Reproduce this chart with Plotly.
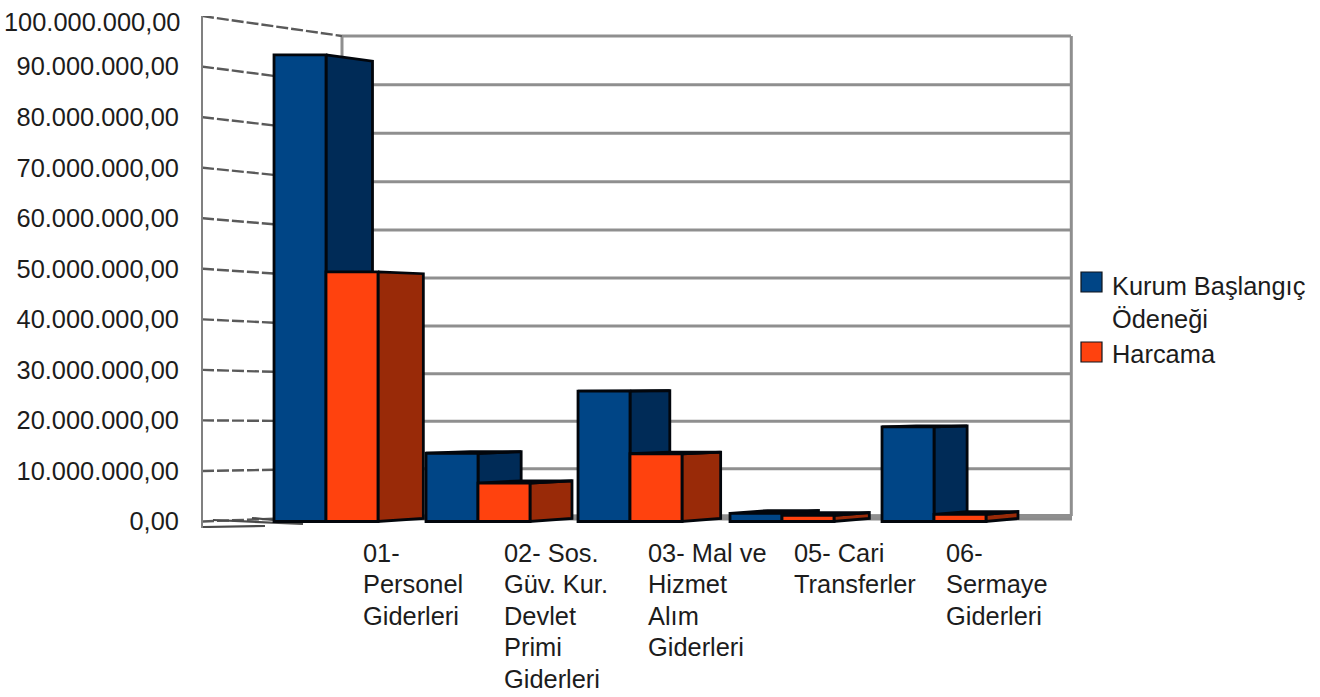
import plotly.graph_objects as go

# ---------- data ----------
categories = [
    "01-<br>Personel<br>Giderleri",
    "02- Sos.<br>Güv. Kur.<br>Devlet<br>Primi<br>Giderleri",
    "03- Mal ve<br>Hizmet<br>Alım<br>Giderleri",
    "05- Cari<br>Transferler",
    "06-<br>Sermaye<br>Giderleri",
]
series_names = ["Kurum Başlangıç<br>Ödeneği", "Harcama"]
kurum_baslangic = [92_300_000, 13_500_000, 25_800_000, 1_600_000, 18_700_000]
harcama = [49_400_000, 7_600_000, 13_400_000, 1_200_000, 1_400_000]
y_ticks = [0, 10_000_000, 20_000_000, 30_000_000, 40_000_000,
           50_000_000, 60_000_000, 70_000_000, 80_000_000, 90_000_000]
y_top = 100_000_000

# ---------- style / geometry ----------
W, H = 1320, 697
L, R, T, B = 203, 1073, 16, 528
PX_CAT0, PX_CAT = 326.0, 152.0           # category spacing on the front plane
PX_ZERO = 521.5
PX_PER_UNIT = (PX_ZERO - T) / y_top
BLUE, BLUE_DARK = "#004586", "#002b57"
ORANGE, ORANGE_DARK = "#ff420e", "#992a08"
EDGE = "#02060c"
FONT = "Liberation Sans, Arial, sans-serif"
FS = 25.4
TXT = "#1c1c1c"
BAR_W = 0.342
LABEL_LEFT = [361, 502, 646, 792, 944]
LABEL_ROWS = [553, 584, 615.5, 647, 679]


def xd(px):
    return (px - PX_CAT0) / PX_CAT


def yd(py):
    return (PX_ZERO - py) / PX_PER_UNIT


def xp(px):
    return (px - L) / (R - L)


def yp(py):
    return (B - py) / (B - T)


x_range = [xd(L), xd(R)]
y_range = [yd(B), y_top]


def back_py(v):
    """pixel row of value v on the back wall"""
    u = v / y_top
    return 516 - u * 480 + 8 * u * (1 - u)


def depth_dx(x):
    return (46.5 - 0.022 * (x * PX_CAT)) / PX_CAT


def depth_v(v):
    dy = -3 + 0.1 * v / 1e6
    return v - dy / PX_PER_UNIT


def faces(values, offset):
    """side + (when visible) top faces of the bars of one series"""
    xs, ys = [], []
    for i, v in enumerate(values):
        x0, x1 = i + offset, i + offset + BAR_W
        bx0, bx1 = x0 + depth_dx(x0), x1 + depth_dx(x1)
        xs += [x1, bx1, bx1, x1, x1, None]
        ys += [v, depth_v(v), depth_v(0), 0, v, None]
        if depth_v(v) > v:
            xs += [x0, bx0, bx1, x1, x0, None]
            ys += [v, depth_v(v), depth_v(v), v, v, None]
    return xs, ys


fig = go.Figure()

# back wall grid
wall_x, wall_y, side_x, side_y = [], [], [], []
for v in y_ticks + [y_top]:
    wall_x += [xd(342), xd(1071), None]
    wall_y += [yd(back_py(v)), yd(back_py(v)), None]
    side_x += [xd(L - 1), xd(342), None]
    side_y += [v, yd(back_py(v)), None]
wall_x += [xd(342), xd(342), None, xd(1071.3), xd(1071.3), None]
wall_y += [yd(back_py(0)), yd(back_py(y_top)), None, yd(back_py(0)), yd(back_py(y_top)), None]

# floor band
fig.add_trace(go.Scatter(
    x=[xd(342), xd(1072), xd(1072), xd(342), xd(342)],
    y=[yd(515), yd(514), yd(520.5), yd(520.5), yd(515)],
    mode="lines", fill="toself", fillcolor="#8c8c8c",
    line=dict(color="#8c8c8c", width=0), hoverinfo="skip", showlegend=False))
fig.add_trace(go.Scatter(
    x=wall_x, y=wall_y, mode="lines", line=dict(color="#8f8f8f", width=3),
    hoverinfo="skip", showlegend=False))
fig.add_trace(go.Scatter(
    x=side_x, y=side_y, mode="lines",
    line=dict(color="#5a5a5a", width=2.4, dash="12px,3px"),
    hoverinfo="skip", showlegend=False))
fig.add_trace(go.Scatter(
    x=[xd(L), xd(265), None, xd(213), xd(303), None, xd(252), xd(273)],
    y=[yd(527), yd(526), None, yd(520), yd(524), None, yd(518), yd(520)],
    mode="lines", line=dict(color="#4a4a4a", width=2.2),
    hoverinfo="skip", showlegend=False))

# depth faces
for vals, off, dark in ((kurum_baslangic, -BAR_W, BLUE_DARK), (harcama, 0, ORANGE_DARK)):
    fx, fy = faces(vals, off)
    fig.add_trace(go.Scatter(
        x=fx, y=fy, mode="lines", fill="toself", fillcolor=dark,
        line=dict(color=EDGE, width=2.8), hoverinfo="skip", showlegend=False))

# front faces (on an overlaying axis pair so they sit above the depth faces)
cat_x = list(range(len(categories)))
for vals, name, col in ((kurum_baslangic, series_names[0], BLUE), (harcama, series_names[1], ORANGE)):
    fig.add_trace(go.Bar(
        x=cat_x, y=vals, name=name.replace("<br>", " "), xaxis="x2", yaxis="y2",
        marker=dict(color=col, line=dict(color=EDGE, width=2.8)), showlegend=False))

annotations = []
# category labels, one annotation per row for the tighter line pitch
for cat, left in zip(categories, LABEL_LEFT):
    for line, row in zip(cat.split("<br>"), LABEL_ROWS):
        annotations.append(dict(
            text=line, x=xp(left), xref="paper", y=yp(row), yref="paper",
            xanchor="left", yanchor="middle", showarrow=False,
            font=dict(family=FONT, size=FS, color=TXT)))
# top tick label (moved down to stay on the picture)
annotations.append(dict(
    text=f"{y_top:,.2f}".replace(",", "§").replace(".", ",").replace("§", "."),
    x=xp(183), xref="paper", y=yp(22), yref="paper",
    xanchor="right", yanchor="middle", showarrow=False,
    font=dict(family=FONT, size=FS, color=TXT)))
# legend
annotations.append(dict(
    text=series_names[0], x=xp(1110), xref="paper", y=yp(270), yref="paper",
    xanchor="left", yanchor="top", align="left", showarrow=False,
    font=dict(family=FONT, size=FS, color=TXT)))
annotations.append(dict(
    text=series_names[1], x=xp(1110), xref="paper", y=yp(354), yref="paper",
    xanchor="left", yanchor="middle", align="left", showarrow=False,
    font=dict(family=FONT, size=FS, color=TXT)))

shapes = []
for col, y0, y1 in ((BLUE, 272, 292), (ORANGE, 342, 362)):
    shapes.append(dict(
        type="rect", xref="paper", yref="paper",
        x0=xp(1081), x1=xp(1102), y0=yp(y1), y1=yp(y0),
        fillcolor=col, line=dict(color="#10151c", width=1.2)))

fig.update_layout(
    width=W, height=H,
    margin=dict(l=L, r=W - R, t=T, b=H - B, pad=0),
    paper_bgcolor="white", plot_bgcolor="white",
    separators=",.",
    barmode="group", bargap=1 - 2 * BAR_W, bargroupgap=0,
    showlegend=False,
    font=dict(family=FONT, size=FS, color=TXT),
    xaxis=dict(range=x_range, visible=False, fixedrange=True),
    yaxis=dict(range=y_range, tickvals=y_ticks, tickformat=",.2f", showgrid=False,
               zeroline=False, showline=True, linecolor="#808080", linewidth=2,
               ticks="", ticklabelstandoff=17, fixedrange=True,
               tickfont=dict(family=FONT, size=FS, color=TXT)),
    xaxis2=dict(range=x_range, overlaying="x", visible=False, fixedrange=True),
    yaxis2=dict(range=y_range, overlaying="y", visible=False, fixedrange=True),
    annotations=annotations,
    shapes=shapes,
)

fig.write_html("out.html", post_script="document.body.style.margin='0';",
               config={"displayModeBar": False})
